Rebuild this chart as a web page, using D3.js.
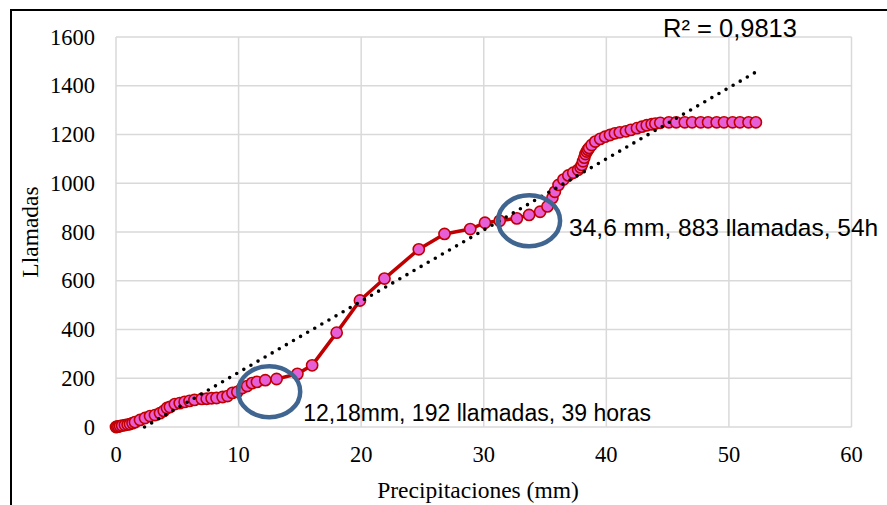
<!DOCTYPE html>
<html>
<head>
<meta charset="utf-8">
<title>Llamadas vs Precipitaciones</title>
<script src="https://cdn.jsdelivr.net/npm/d3@7"></script>
<style>
  body { margin: 0; background: #fff; }
  text.serif { font-family: "Liberation Serif", "Times New Roman", serif; fill: #000; }
  text.sans { font-family: "Liberation Sans", Arial, sans-serif; fill: #000; }
</style>
</head>
<body>
<div id="chart"></div>
<script>
// precipitation (mm) and accumulated calls
var precip = [0, 0.1, 0.2, 0.33, 0.5, 0.73, 0.95, 1.14, 1.35, 1.55, 1.96, 2.37, 2.78, 3.18, 3.59,
  3.9, 4.16, 4.4, 4.8, 5.2, 5.6, 6.0, 6.4, 7.0, 7.4, 7.8, 8.2, 8.7, 9.1, 9.5, 9.9, 10.3, 10.7,
  11.1, 11.5, 12.18, 13.1, 14.8, 16.0, 18.0, 19.9, 21.9, 24.7, 26.8, 28.9, 30.1, 31.3, 32.7,
  33.7, 34.6, 35.2, 35.6, 35.8, 36.1, 36.5, 36.9, 37.3, 37.7, 37.9, 38.0, 38.1, 38.2, 38.3,
  38.4, 38.5, 38.6, 38.8, 39.1, 39.5, 39.9, 40.3, 40.7, 41.1, 41.6, 42.0, 42.5, 42.9, 43.3,
  43.7, 44.0, 44.4, 45.1, 45.7, 46.4, 47.0, 47.7, 48.3, 49.0, 49.6, 50.3, 50.9, 51.6, 52.2];
var llamadas = [0, 1, 2, 4, 6, 8, 10, 12, 16, 20, 29, 37, 45, 49, 57,
  66, 78, 82, 94, 98, 103, 107, 111, 115, 116, 118, 119, 123, 127, 140, 144, 160, 168,
  180, 185, 192, 197, 218, 253, 387, 519, 609, 729, 792, 812, 838, 846, 856,
  870, 883, 905, 940, 965, 993, 1015, 1032, 1043, 1055, 1065, 1075, 1090, 1105, 1120,
  1130, 1138, 1145, 1157, 1171, 1182, 1191, 1198, 1205, 1209, 1213, 1219, 1226, 1232, 1238,
  1242, 1245, 1248, 1250, 1250, 1250, 1250, 1250, 1250, 1250, 1250, 1250, 1250, 1250, 1250];

var xTicks = [0, 10, 20, 30, 40, 50, 60];
var yTicks = [0, 200, 400, 600, 800, 1000, 1200, 1400, 1600];

// linear trend fitted in the source chart
var trendSlope = 29.2, trendIntercept = -68;
var r2Label = "R² = 0,9813";

// highlighted points (circled)
var notes = [
  {x: 12.5, y: 145, text: "12,18mm, 192 llamadas, 39 horas", dx: 34, dy: 29, size: 23},
  {x: 33.7, y: 846, text: "34,6 mm, 883 llamadas, 54h", dx: 40, dy: 15, size: 24.5}
];

var W = 887, H = 505;
var svg = d3.select("#chart").append("svg")
  .attr("width", W).attr("height", H);

// outer frame of the chart object
svg.append("rect")
  .attr("x", 11).attr("y", 10)
  .attr("width", W + 20).attr("height", H + 20)
  .attr("fill", "none").attr("stroke", "#000").attr("stroke-width", 2);

var x = d3.scaleLinear().domain([0, 60]).range([116, 851.5]);
var y = d3.scaleLinear().domain([0, 1600]).range([427, 37]);

// grid
svg.append("g").selectAll("line.h")
  .data(yTicks).enter().append("line")
  .attr("x1", x(0)).attr("x2", x(60))
  .attr("y1", function(d) { return y(d); })
  .attr("y2", function(d) { return y(d); })
  .attr("stroke", "#d9d9d9").attr("stroke-width", 1.5);
svg.append("g").selectAll("line.v")
  .data(xTicks).enter().append("line")
  .attr("y1", y(0)).attr("y2", y(1600))
  .attr("x1", function(d) { return x(d); })
  .attr("x2", function(d) { return x(d); })
  .attr("stroke", "#d9d9d9").attr("stroke-width", 1.5);

// tick labels
svg.append("g").selectAll("text")
  .data(yTicks).enter().append("text")
  .attr("class", "serif")
  .attr("x", 95)
  .attr("y", function(d) { return y(d) + 7.5; })
  .attr("text-anchor", "end")
  .style("font-size", "22.5px")
  .text(function(d) { return d; });
svg.append("g").selectAll("text")
  .data(xTicks).enter().append("text")
  .attr("class", "serif")
  .attr("x", function(d) { return x(d); })
  .attr("y", 462)
  .attr("text-anchor", "middle")
  .style("font-size", "22.5px")
  .text(function(d) { return d; });

// axis titles
svg.append("text")
  .attr("class", "serif")
  .attr("transform", "translate(38,232) rotate(-90)")
  .attr("text-anchor", "middle")
  .style("font-size", "23.5px")
  .text("Llamadas");
svg.append("text")
  .attr("class", "serif")
  .attr("x", 478).attr("y", 498)
  .attr("text-anchor", "middle")
  .style("font-size", "23.5px")
  .text("Precipitaciones (mm)");

var pts = precip.map(function(d, i) { return [d, llamadas[i]]; });

// data line
var line = d3.line()
  .x(function(d) { return x(d[0]); })
  .y(function(d) { return y(d[1]); });
svg.append("path")
  .datum(pts)
  .attr("d", line)
  .attr("fill", "none")
  .attr("stroke", "#c00000")
  .attr("stroke-width", 3.5)
  .attr("stroke-linejoin", "round");

// trend line (clipped at y = 0)
var x0 = -trendIntercept / trendSlope;
var x1 = d3.max(precip);
var trend = [[x0, 0], [x1, trendSlope * x1 + trendIntercept]];

svg.append("g").selectAll("circle")
  .data(pts).enter().append("circle")
  .attr("cx", function(d) { return x(d[0]); })
  .attr("cy", function(d) { return y(d[1]); })
  .attr("r", 5.6)
  .attr("fill", "#e65fd6")
  .attr("stroke", "#c00000")
  .attr("stroke-width", 1.6);

svg.append("path")
  .datum(trend)
  .attr("d", line)
  .attr("fill", "none")
  .attr("stroke", "#000")
  .attr("stroke-width", 3.6)
  .attr("stroke-linecap", "round")
  .attr("stroke-dasharray", "0,8.2");

// circled annotations
svg.append("g").selectAll("ellipse")
  .data(notes).enter().append("ellipse")
  .attr("cx", function(d) { return x(d.x); })
  .attr("cy", function(d) { return y(d.y); })
  .attr("rx", 31).attr("ry", 25.5)
  .attr("fill", "none")
  .attr("stroke", "#3f6590")
  .attr("stroke-width", 4.5);
svg.append("g").selectAll("text")
  .data(notes).enter().append("text")
  .attr("class", "sans")
  .attr("x", function(d) { return x(d.x) + d.dx; })
  .attr("y", function(d) { return y(d.y) + d.dy; })
  .style("font-size", function(d) { return d.size + "px"; })
  .text(function(d) { return d.text; });

svg.append("text")
  .attr("class", "sans")
  .attr("x", 663).attr("y", 37)
  .style("font-size", "25.5px")
  .text(r2Label);
</script>
</body>
</html>
